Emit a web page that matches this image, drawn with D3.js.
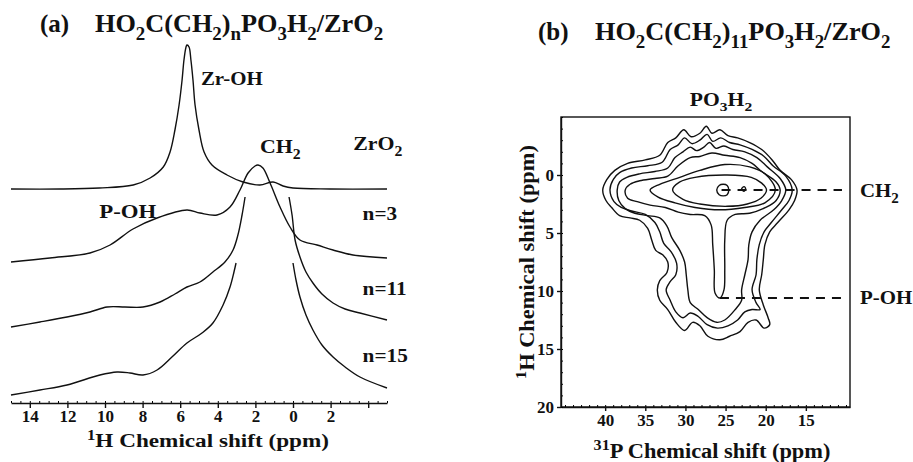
<!DOCTYPE html>
<html>
<head>
<meta charset="utf-8">
<script src="https://cdn.jsdelivr.net/npm/d3@7"></script>
<style>
  body { margin: 0; background: #fff; }
  svg { display: block; }
  text { font-family: "Liberation Serif", "Times New Roman", serif; font-weight: bold; fill: #111; }
</style>
</head>
<body>
<svg id="chart" width="913" height="462"></svg>
<script>
// (a) 1H spectra : ppm / intensity (a.u., stacked)
const ppmZrO2 = [15.0, 12.4, 10.3, 8.5, 7.6, 6.9, 6.54, 6.28, 6.06, 5.90, 5.80, 5.69, 5.64, 5.53, 5.43, 5.32, 5.21, 5.00, 4.73, 4.31, 3.51, 2.66, 1.76, 1.06, 0.53, 0.0, -1.97, -5.0];
const intZrO2 = [214, 214, 215, 218, 225, 236, 251, 273, 298, 323, 343, 356, 358, 356, 343, 323, 298, 273, 251, 238, 228, 221, 218, 221, 217, 215, 214, 214];

const ppmN3 = [15.0, 12.93, 10.8, 9.73, 8.51, 7.23, 5.64, 4.95, 4.04, 3.35, 2.82, 2.39, 2.02, 1.86, 1.60, 1.22, 0.69, 0.16, -0.37, -1.28, -2.13, -3.19, -5.0];
const intN3 = [141, 145, 150, 158, 174, 185, 193, 190, 188, 196, 213, 230, 237, 238, 235, 220, 196, 176, 163, 158, 153, 148, 145];

const ppmN11L = [15.0, 13.46, 12.02, 10.8, 9.89, 8.94, 7.98, 7.07, 6.28, 5.64, 4.95, 4.26, 3.62, 3.19, 2.93, 2.71, 2.55];
const intN11L = [76, 81, 86, 91, 96, 96, 96, 101, 109, 116, 121, 131, 141, 153, 168, 188, 206];
const ppmN11R = [0.21, 0.05, -0.11, -0.37, -0.69, -1.06, -1.54, -2.13, -2.77, -3.56, -5.0];
const intN11R = [206, 188, 163, 146, 131, 120, 109, 100, 94, 90, 83];

const ppmN15L = [15.0, 13.46, 12.02, 10.27, 9.36, 8.67, 7.98, 7.23, 6.44, 5.64, 4.84, 4.26, 3.72, 3.35, 3.14, 3.03];
const intN15L = [8, 13, 18, 28, 31, 30, 28, 33, 46, 60, 70, 80, 98, 116, 131, 140];
const ppmN15R = [0.0, -0.16, -0.37, -0.69, -1.06, -1.54, -2.13, -2.77, -3.56, -5.0];
const intN15R = [140, 123, 106, 88, 73, 58, 46, 36, 26, 15];

const tickA = [14, 12, 10, 8, 6, 4, 2, 0, -2, -4];
const tickLabelsA = ["14", "12", "10", "8", "6", "4", "2", "0", "2", ""];

// (b) 2D 31P-1H contours : [31P ppm, 1H ppm]
const contour1 = [[40.3,1.3],[39.8,0.4],[38.8,-0.4],[37.2,-1.0],[35.0,-1.3],[33.2,-1.7],[32.2,-2.8],[31.2,-3.2],[30.2,-3.9],[29.3,-3.3],[28.2,-3.6],[27.4,-4.2],[26.7,-3.6],[25.7,-3.9],[24.7,-3.4],[23.5,-3.2],[22.0,-2.8],[20.5,-2.2],[19.2,-1.3],[18.2,-0.4],[16.8,0.4],[16.1,1.3],[16.4,2.2],[17.1,3.0],[18.5,4.1],[19.5,4.9],[20.1,6.0],[20.3,7.3],[20.5,8.6],[20.8,9.9],[20.3,11.2],[19.7,12.3],[19.5,12.9],[20.2,13.2],[21.2,12.5],[22.2,12.7],[23.2,13.5],[24.5,13.9],[25.7,14.2],[27.2,13.9],[28.2,13.0],[29.1,12.7],[30.1,13.4],[31.2,12.7],[32.2,11.6],[33.2,10.8],[33.5,9.9],[33.2,9.1],[32.3,8.4],[32.2,7.5],[32.8,6.9],[33.7,6.5],[34.2,5.6],[34.7,4.6],[35.7,3.9],[36.9,3.7],[38.2,3.5],[39.2,2.8],[39.9,2.2]];
const contour2 = [[39.4,1.3],[39.0,0.4],[38.2,-0.2],[36.7,-0.6],[34.7,-0.8],[32.9,-1.1],[31.9,-2.2],[30.9,-2.6],[30.1,-3.2],[29.2,-2.7],[28.2,-3.0],[27.3,-3.5],[26.6,-2.9],[25.6,-3.2],[24.5,-2.8],[23.2,-2.6],[21.7,-2.2],[20.2,-1.6],[19.1,-0.8],[17.5,0.1],[16.7,1.3],[17.1,2.2],[18.0,3.0],[19.3,4.1],[20.2,4.9],[20.8,6.0],[21.1,7.3],[21.2,8.6],[21.7,9.9],[21.2,11.0],[20.7,11.6],[21.7,11.6],[22.6,11.8],[23.5,12.5],[24.7,13.0],[26.0,13.2],[27.3,12.9],[28.4,12.2],[29.4,11.9],[30.3,12.3],[31.2,11.8],[31.9,10.8],[32.4,9.9],[31.9,9.2],[31.2,8.6],[31.1,7.6],[31.8,6.6],[32.7,5.9],[33.2,4.9],[33.8,4.1],[35.0,3.4],[36.7,3.1],[38.0,2.8],[38.9,2.3]];
const contour3 = [[38.5,1.3],[38.2,0.6],[37.3,0.2],[35.7,-0.1],[33.8,-0.3],[32.2,-0.6],[31.3,-1.5],[30.3,-2.0],[29.4,-2.4],[28.6,-2.1],[27.7,-2.4],[27.0,-2.8],[26.2,-2.3],[25.2,-2.5],[24.1,-2.2],[22.6,-2.0],[21.1,-1.5],[19.8,-0.7],[18.2,0.3],[17.5,1.3],[18.0,2.2],[19.0,3.0],[20.7,3.9],[21.7,4.9],[22.1,6.0],[22.2,7.3],[22.6,8.6],[23.0,9.9],[23.0,10.8],[23.8,11.6],[25.1,12.5],[26.1,12.7],[27.3,12.3],[28.4,11.6],[29.4,11.0],[29.7,9.9],[29.9,8.6],[30.1,7.5],[30.7,6.5],[31.7,5.4],[32.3,4.4],[33.2,3.7],[34.7,3.5],[36.3,3.3],[37.5,2.9],[38.3,2.2]];
const contour4 = [[37.5,1.3],[36.9,0.8],[35.7,0.5],[33.8,0.3],[32.2,0.1],[30.9,-0.8],[29.4,-1.5],[28.2,-1.6],[26.7,-1.9],[25.1,-1.7],[23.2,-1.5],[21.7,-1.0],[20.5,-0.3],[18.7,0.6],[18.2,1.3],[18.7,2.2],[20.0,2.8],[22.0,3.3],[23.8,3.4],[24.8,3.9],[25.1,5.6],[25.1,8.2],[25.2,9.9],[25.7,10.6],[26.3,10.2],[26.4,8.2],[26.6,6.0],[26.8,4.3],[27.6,3.5],[29.4,3.4],[30.9,3.2],[32.5,2.8],[34.4,2.6],[36.0,2.3],[37.2,2.0]];
const contour5 = [[34.4,1.3],[33.2,0.8],[30.7,0.2],[28.2,-0.4],[25.1,-0.9],[22.0,-0.7],[20.1,-0.1],[18.8,1.3],[20.1,2.4],[22.6,2.8],[25.7,3.0],[28.8,2.8],[31.3,2.4],[33.4,1.9]];
const contour6 = [[31.6,1.3],[30.7,0.6],[28.8,0.2],[24.8,0.0],[21.8,0.2],[20.5,0.7],[19.9,1.3],[20.6,2.0],[22.3,2.5],[24.8,2.7],[28.2,2.5],[30.3,2.1]];
const contour7 = [[26.1,1.3],[25.8,0.9],[25.3,0.8],[24.8,0.9],[24.6,1.3],[24.8,1.7],[25.3,1.8],[25.8,1.7]];
const contour8 = [[23.0,1.2],[22.7,1.0],[22.5,1.2],[22.7,1.4]];

const tickBx = [40, 35, 30, 25, 20, 15];
const tickBy = [0, 5, 10, 15, 20];

// assignment lines in (b)
const markH = [1.3, 10.6];
const markFrom = [25.5, 25.7];
const markTo = [10.5, 10.5];

const svg = d3.select("#chart");

// rich text with sub/superscripts
function rich(sel, parts, size) {
  let shift = 0;
  parts.forEach(([t, mode]) => {
    const target = mode === "sub" ? 0.3 : mode === "sup" ? -0.38 : 0;
    const ts = sel.append("tspan").text(t);
    if (mode) ts.attr("font-size", size * 0.72);
    const dy = (target - shift) * size;
    if (dy) ts.attr("dy", dy);
    shift = target;
  });
  return sel;
}
// the scanned figure is a bit wider than tall, so text gets a horizontal stretch
function label(x, y, parts, size, anchor, sx) {
  const t = svg.append("text")
    .attr("transform", `translate(${x},${y}) scale(${sx || 1},1)`)
    .attr("font-size", size).attr("text-anchor", anchor || "start");
  return rich(t, parts, size);
}
function styleAxis(g) {
  g.attr("font-size", 17);
  g.selectAll("path, line").attr("stroke", "#111").attr("stroke-width", 1.4);
}

// ---------- panel (a) ----------
const xA = d3.scaleLinear().domain([15, -5]).range([11, 387]);
const yA = d3.scaleLinear().domain([0, 360]).range([403, 43]);

const lineA = d3.line()
  .x(d => xA(d[0]))
  .y(d => yA(d[1]))
  .curve(d3.curveCatmullRom.alpha(0.5));

[[ppmZrO2, intZrO2], [ppmN3, intN3], [ppmN11L, intN11L], [ppmN11R, intN11R], [ppmN15L, intN15L], [ppmN15R, intN15R]]
  .forEach(([p, v]) => {
    svg.append("path")
      .datum(d3.zip(p, v))
      .attr("fill", "none")
      .attr("stroke", "#111")
      .attr("stroke-width", 1.4)
      .attr("d", lineA);
  });

// minor ticks
svg.append("g")
  .attr("transform", "translate(0,403)")
  .call(d3.axisBottom(xA).tickValues(d3.range(15, -5.01, -0.5)).tickSize(-2).tickSizeOuter(0).tickFormat(""))
  .call(g => g.select(".domain").remove());

svg.append("g")
  .attr("transform", "translate(0,403)")
  .call(d3.axisBottom(xA).tickValues(tickA).tickFormat((d, i) => tickLabelsA[i]).tickSize(5).tickPadding(2).tickSizeOuter(0))
  .call(styleAxis);

label(208, 447, [["1", "sup"], ["H Chemical shift (ppm)"]], 19, "middle", 1.22);

label(40, 32, [["(a)"]], 25, "start", 1.0);
label(95, 32, [["HO"], ["2", "sub"], ["C(CH"], ["2", "sub"], [")"], ["n", "sub"], ["PO"], ["3", "sub"], ["H"], ["2", "sub"], ["/ZrO"], ["2", "sub"]], 25, "start", 1.05);

label(xA(4.9), 85, [["Zr-OH"]], 19, "start", 1.1);
label(xA(1.75), 153, [["CH"], ["2", "sub"]], 19, "start", 1.15);
label(xA(10.3), 218, [["P-OH"]], 19, "start", 1.2);
label(xA(-3.2), 150, [["ZrO"], ["2", "sub"]], 19, "start", 1.15);
label(xA(-3.7), 220, [["n=3"]], 19, "start", 1.12);
label(xA(-3.7), 295, [["n=11"]], 19, "start", 1.12);
label(xA(-3.7), 362, [["n=15"]], 19, "start", 1.12);

// ---------- panel (b) ----------
const xB = d3.scaleLinear().domain([45.5, 9.5]).range([561, 850]);
const yB = d3.scaleLinear().domain([-5, 20]).range([117, 407]);

svg.append("rect")
  .attr("x", xB(45.5)).attr("y", yB(-5))
  .attr("width", xB(9.5) - xB(45.5)).attr("height", yB(20) - yB(-5))
  .attr("fill", "none").attr("stroke", "#111").attr("stroke-width", 1.4);

svg.append("g")
  .attr("transform", `translate(0,${yB(20)})`)
  .call(d3.axisBottom(xB).tickValues(d3.range(45, 9.9, -1)).tickSize(-2).tickSizeOuter(0).tickFormat(""))
  .call(g => g.select(".domain").remove());
svg.append("g")
  .attr("transform", `translate(0,${yB(20)})`)
  .call(d3.axisBottom(xB).tickValues(tickBx).tickSize(4).tickSizeOuter(0))
  .call(styleAxis);

svg.append("g")
  .attr("transform", `translate(${xB(45.5)},0)`)
  .call(d3.axisLeft(yB).tickValues(d3.range(-5, 20.1, 1)).tickSize(-2).tickSizeOuter(0).tickFormat(""))
  .call(g => g.select(".domain").remove());
svg.append("g")
  .attr("transform", `translate(${xB(45.5)},0)`)
  .call(d3.axisLeft(yB).tickValues(tickBy).tickSize(4).tickSizeOuter(0))
  .call(styleAxis);

const lineB = d3.line()
  .x(d => xB(d[0]))
  .y(d => yB(d[1]))
  .curve(d3.curveCatmullRomClosed.alpha(0.5));

[contour1, contour2, contour3, contour4, contour5, contour6, contour7, contour8].forEach(c => {
  svg.append("path")
    .datum(c)
    .attr("fill", "none")
    .attr("stroke", "#111")
    .attr("stroke-width", 1.4)
    .attr("d", lineB);
});

markH.forEach((h, i) => {
  svg.append("line")
    .attr("x1", xB(markFrom[i])).attr("x2", xB(markTo[i]))
    .attr("y1", yB(h)).attr("y2", yB(h))
    .attr("stroke", "#111").attr("stroke-width", 2)
    .attr("stroke-dasharray", "9,7");
});
label(xB(markTo[0]) + 18, yB(markH[0]) + 7, [["CH"], ["2", "sub"]], 19, "start", 1.1);
label(xB(markTo[1]) + 18, yB(markH[1]) + 6, [["P-OH"]], 19, "start", 1.1);

label(721, 106, [["PO"], ["3", "sub"], ["H"], ["2", "sub"]], 18, "middle", 1.2);

label(538, 40, [["(b)"]], 25, "start", 1.0);
label(595, 40, [["HO"], ["2", "sub"], ["C(CH"], ["2", "sub"], [")"], ["11", "sub"], ["PO"], ["3", "sub"], ["H"], ["2", "sub"], ["/ZrO"], ["2", "sub"]], 25, "start", 1.05);

label(712, 458, [["31", "sup"], ["P Chemical shift (ppm)"]], 20, "middle", 1.12);

const yTitle = svg.append("text")
  .attr("transform", `translate(534,${(yB(-5) + yB(20)) / 2}) rotate(-90) scale(1.12,1)`)
  .attr("text-anchor", "middle")
  .attr("font-size", 20);
rich(yTitle, [["1", "sup"], ["H Chemical shift (ppm)"]], 20);
</script>
</body>
</html>
